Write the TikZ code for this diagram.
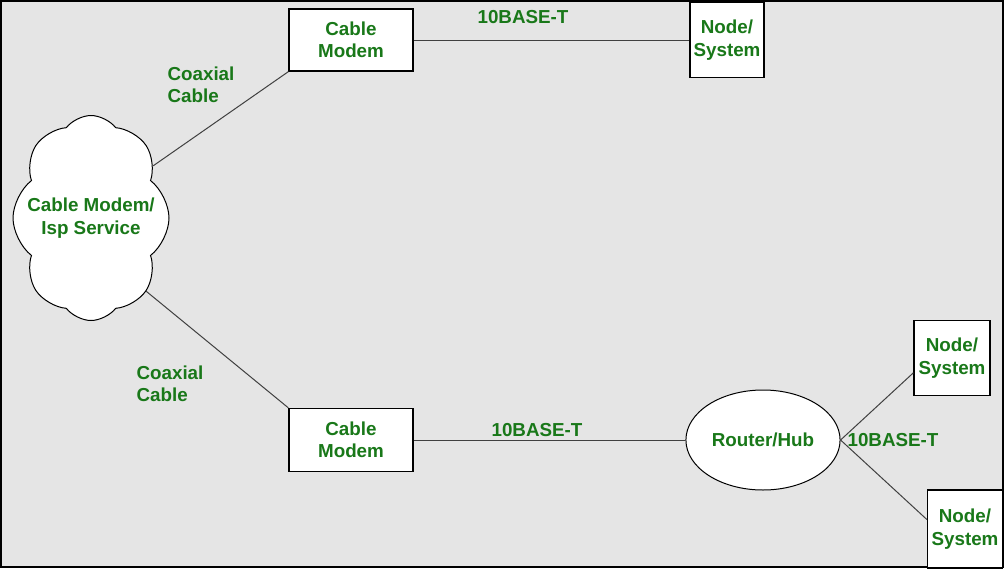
\documentclass[tikz,border=0pt]{standalone}
\usepackage{fontspec}
\setmainfont{Liberation Sans}
\usetikzlibrary{shapes.symbols,shapes.geometric}

\definecolor{lblgreen}{RGB}{25,120,25}
\definecolor{bggray}{RGB}{229,229,229}

\tikzset{
    lbl/.style={text=lblgreen, font=\fontsize{18.8}{22.5}\selectfont\bfseries},
    box/.style={draw=black, fill=white, line width=1.3pt, inner sep=0pt, align=center, lbl},
    wire/.style={draw=black!75, line width=1pt},
}

\begin{document}
\begin{tikzpicture}[x=1pt, y=-1pt]
    % Frame and grey background
    \useasboundingbox (0,0) rectangle (1004,568);
    \filldraw[bggray, draw=black, line width=2pt] (1,1) rectangle (1003,567);

    % Cloud for the ISP, text set on top of it
    \node[cloud, draw=black, fill=white, line width=1pt, cloud puffs=8, cloud puff arc=105,
          inner sep=0pt, minimum width=156pt, minimum height=205pt] (isp) at (91,218) {};
    \node[lbl, align=center] (isptext) at (isp.center) {Cable Modem/\\Isp Service};

    % Modems, router and systems
    \node[box, minimum width=124pt, minimum height=62pt] (cmtop) at (351,40) {Cable\\Modem};
    \node[box, minimum width=124pt, minimum height=63pt] (cmbot) at (351,440) {Cable\\Modem};
    \node[box, minimum width=74pt, minimum height=75pt] (nstop) at (727,40) {Node/\\System};
    \node[ellipse, draw=black, fill=white, line width=1pt, minimum width=150pt, minimum height=100pt, lbl] (router) at (763,440) {Router/Hub};
    \node[box, minimum width=76pt, minimum height=75pt] (nsa) at (952,358) {Node/\\System};
    \node[box, minimum width=75pt, minimum height=78pt] (nsb) at (965,529) {Node/\\System};

    % Links
    \draw[wire] (isp.40) -- (cmtop.south west);
    \draw[wire] (isp.-53) -- (cmbot.north west);
    \draw[wire] (cmtop.east) -- (nstop.west);
    \draw[wire] (cmbot.east) -- (router.west);
    \draw[wire] (router.east) -- (nsa.201);
    \draw[wire] (router.east) -- (nsb.166);

    % Link labels
    \node[lbl, align=left, anchor=west] (coaxtop) at (164,85) {Coaxial\\Cable};
    \node[lbl, align=left, anchor=west] (coaxbot) at (133,384) {Coaxial\\Cable};
    \node[lbl] (basetop) at (523,17) {10BASE-T};
    \node[lbl] (basebot) at (537,430) {10BASE-T};
    \node[lbl] (baseright) at (893,440) {10BASE-T};
\end{tikzpicture}
\end{document}
